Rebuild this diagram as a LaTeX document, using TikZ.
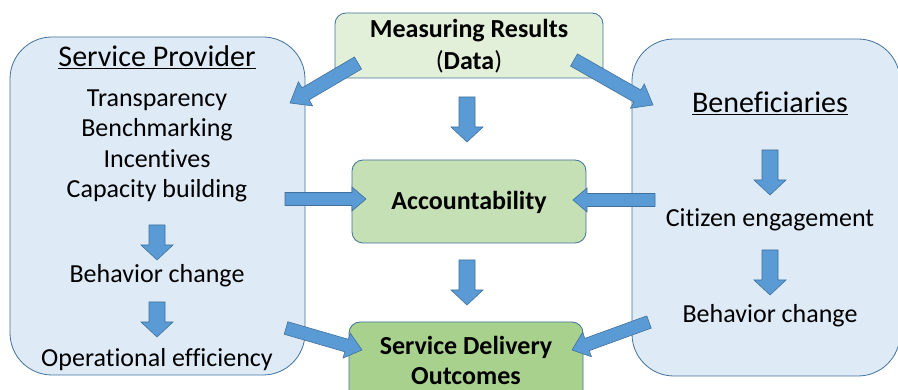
\documentclass[tikz,border=0pt]{standalone}
\usepackage{fontspec}
\setmainfont{Carlito}[Ligatures=NoCommon]
\usetikzlibrary{positioning,calc}

\definecolor{boxblue}{HTML}{DEEBF7}
\definecolor{boxline}{HTML}{41719C}
\definecolor{greenA}{HTML}{E2F0D9}
\definecolor{greenB}{HTML}{C5E0B4}
\definecolor{greenC}{HTML}{A9D18E}
\definecolor{arrowblue}{HTML}{5B9BD5}

% block arrow: from, to, half shaft, half head, head length
\newcommand{\blockarrow}[5]{%
  \filldraw[blockarr]
    ($(#1)!#3!90:(#2)$) -- ($(#2)!#5!(#1)!#3!90:(#2)$) --
    ($(#2)!#5!(#1)!#4!90:(#2)$) -- (#2) --
    ($(#2)!#5!(#1)!#4!-90:(#2)$) -- ($(#2)!#5!(#1)!#3!-90:(#2)$) --
    ($(#1)!#3!-90:(#2)$) -- cycle;}

\begin{document}
\begin{tikzpicture}[x=1pt,y=-1pt,
  bigbox/.style={draw=boxline,fill=boxblue,rounded corners=42pt,line width=0.8pt},
  smallbox/.style={draw=boxline,rounded corners=11pt,line width=0.8pt},
  txt/.style={font=\fontsize{26}{30.5}\selectfont,align=center,inner sep=0pt},
  ttl/.style={font=\fontsize{30}{34}\selectfont,inner sep=0pt},
  bold/.style={font=\fontsize{26}{32}\selectfont\bfseries,align=center,inner sep=0pt},
  blockarr/.style={fill=arrowblue,draw=boxline,line width=0.6pt,line join=miter}]
  \useasboundingbox (0,0) rectangle (898,390);

  % boxes
  \node (prov) [bigbox,minimum width=295pt,minimum height=338pt] at (157.5,206) {};
  \node (bene) [bigbox,minimum width=268pt,minimum height=337pt] at (766,207.5) {};
  \node (meas) [smallbox,fill=greenA,minimum width=268pt,minimum height=65pt] at (469,45.5) {};
  \node (acc) [smallbox,fill=greenB,minimum width=234pt,minimum height=83pt] at (469,201.5) {};
  \node (outc) [smallbox,fill=greenC,minimum width=234pt,minimum height=83pt] at (466,363.5) {};

  % texts
  \node (provttl) [ttl] at (157,57) {\underline{Service Provider}};
  \node (tools) [txt] at (157,146) {Transparency\\Benchmarking\\Incentives\\Capacity building};
  \node (provbeh) [txt] at (157,276) {Behavior change};
  \node (proveff) [txt] at (157,360) {Operational efficiency};
  \node (measttl) [bold] at (469,46) {Measuring Results\\{\mdseries(}Data{\mdseries)}};
  \node (accttl) [bold] at (469,202) {Accountability};
  \node (outttl) [bold,font=\fontsize{26}{30}\selectfont\bfseries] at (466,360) {Service Delivery\\Outcomes};
  \node (benettl) [ttl] at (770,103) {\underline{Beneficiaries}};
  \node (citz) [txt] at (770,220) {Citizen engagement};
  \node (benebeh) [txt] at (770,316) {Behavior change};

  % arrow ends
  \coordinate (m1) at (358,63);  \coordinate (m1t) at (290,103);
  \coordinate (m2) at (574,60);  \coordinate (m2t) at (653,105);
  \coordinate (m3) at (467,97);  \coordinate (m3t) at (467,142);
  \coordinate (m4) at (467,260); \coordinate (m4t) at (467,305);
  \coordinate (p1) at (285,199); \coordinate (p1t) at (366,199);
  \coordinate (b1) at (655,200); \coordinate (b1t) at (573,200);
  \coordinate (p2) at (286,328); \coordinate (p2t) at (362,350);
  \coordinate (b2) at (649,322); \coordinate (b2t) at (572,350);
  \coordinate (p3) at (157,225); \coordinate (p3t) at (157,260);
  \coordinate (p4) at (157,302); \coordinate (p4t) at (157,337);
  \coordinate (b3) at (770,150); \coordinate (b3t) at (770,195);
  \coordinate (b4) at (770,250); \coordinate (b4t) at (770,295);

  % arrows
  \blockarrow{m1}{m1t}{7pt}{14pt}{18pt}
  \blockarrow{m2}{m2t}{7pt}{14pt}{18pt}
  \blockarrow{m3}{m3t}{8pt}{16pt}{15pt}
  \blockarrow{m4}{m4t}{8pt}{16pt}{15pt}
  \blockarrow{p1}{p1t}{6.5pt}{12pt}{14pt}
  \blockarrow{b1}{b1t}{6.5pt}{12pt}{14pt}
  \blockarrow{p2}{p2t}{6.5pt}{13pt}{16pt}
  \blockarrow{b2}{b2t}{6.5pt}{13pt}{16pt}
  \blockarrow{p3}{p3t}{8pt}{16pt}{15pt}
  \blockarrow{p4}{p4t}{8pt}{16pt}{15pt}
  \blockarrow{b3}{b3t}{8pt}{16pt}{15pt}
  \blockarrow{b4}{b4t}{8pt}{16pt}{15pt}
\end{tikzpicture}
\end{document}
